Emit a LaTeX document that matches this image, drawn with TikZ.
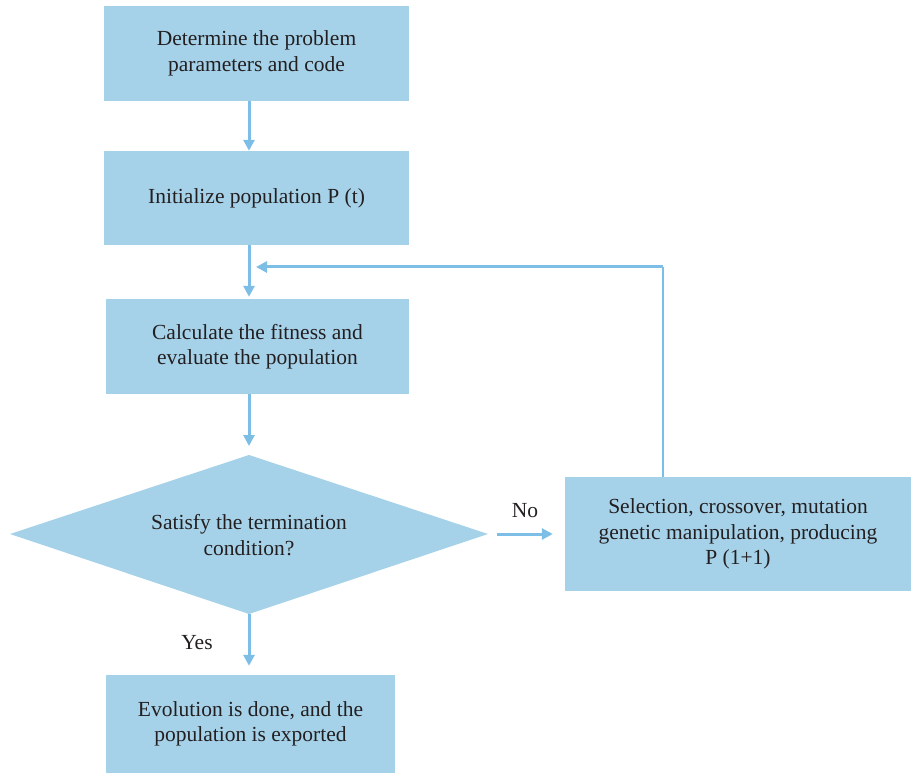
\documentclass[tikz,border=0pt]{standalone}
\usepackage{fontspec}
\setmainfont{Liberation Serif}
\usetikzlibrary{arrows.meta,shapes.geometric}
\definecolor{boxfill}{HTML}{A6D2E9}
\definecolor{flowline}{HTML}{7CBEE6}
\definecolor{txt}{HTML}{231F20}
\begin{document}
\begin{tikzpicture}[x=1pt,y=-1pt,
  every node/.style={font=\fontsize{21.5}{25.5}\selectfont,text=txt},
  stepbox/.style={fill=boxfill,draw=none,align=center,inner sep=0pt},
  flow/.style={draw=flowline,line width=3pt,-{Triangle[width=11pt,length=11pt]}},
  lbl/.style={font=\fontsize{21.5}{25.5}\selectfont}]
\useasboundingbox (0,0) rectangle (912,775);
% process boxes
\node[stepbox,minimum width=305pt,minimum height=95pt] (def) at (256.5,53.5)
  {Determine the problem\\parameters and code};
\node[stepbox,minimum width=305pt,minimum height=94pt] (init) at (256.5,198)
  {Initialize population P (t)};
\node[stepbox,minimum width=303pt,minimum height=95pt] (calc) at (257.5,346.5)
  {Calculate the fitness and\\evaluate the population};
% decision
\path[fill=boxfill] (249,455) coordinate (dtop) -- (488,534) coordinate (dright)
  -- (249,614) coordinate (dbot) -- (10,534) coordinate (dleft) -- cycle;
\node[align=center] (cond) at (249,535) {Satisfy the termination\\condition?};
% genetic operators
\node[stepbox,minimum width=346pt,minimum height=114pt] (gen) at (738,534)
  {Selection, crossover, mutation\\genetic manipulation, producing\\P (1+1)};
% final box
\node[stepbox,minimum width=289pt,minimum height=98pt] (done) at (250.5,724)
  {Evolution is done, and the\\population is exported};
% connectors
\draw[flow] (def.south -| 249,0) -- (init.north -| 249,0);
\draw[flow,shorten >=2pt] (init.south -| 249,0) -- (calc.north -| 249,0);
\draw[flow,shorten >=9pt] (calc.south -| 249,0) -- (dtop);
\draw[flow,shorten <=9pt,shorten >=12pt] (dright) -- (gen.west |- dright);
\draw[flow,shorten >=9pt] (dbot) -- (done.north -| 249,0);
\coordinate (corner) at (663,267);
\coordinate (back) at (249,267);
\draw[draw=flowline,line width=2pt] (gen.north -| corner) -- (corner);
\draw[flow,shorten >=7pt] (corner) -- (back);
% branch labels
\node[lbl] (no) at (525,511) {No};
\node[lbl] (yes) at (197,643) {Yes};
\end{tikzpicture}
\end{document}
